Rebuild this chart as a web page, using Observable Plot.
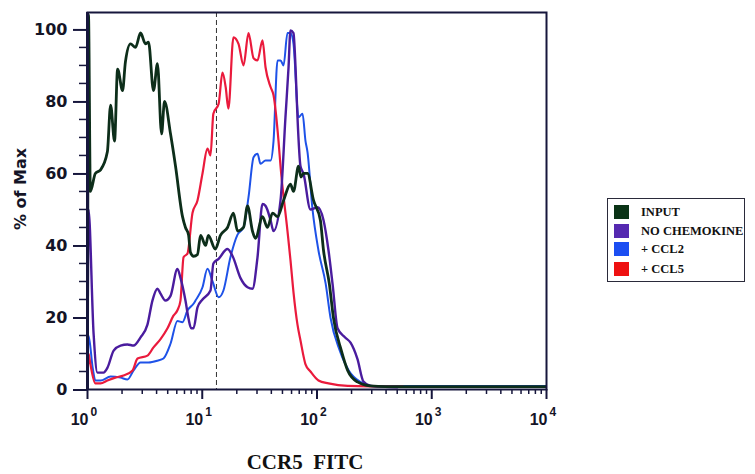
<!DOCTYPE html>
<html><head><meta charset="utf-8">
<script src="https://cdn.jsdelivr.net/npm/d3@7"></script>
<script src="https://cdn.jsdelivr.net/npm/@observablehq/plot@0.6"></script>
<style>
body{margin:0;background:#fff;}
#wrap{position:relative;width:755px;height:474px;overflow:hidden;}
#legend{position:absolute;left:607px;top:198px;width:138px;height:84px;border:1.5px solid #2a2a3a;box-sizing:border-box;font-family:"Liberation Serif","Times New Roman",serif;font-weight:bold;font-size:12.5px;color:#111;}
.row{position:absolute;left:6px;height:14px;display:flex;align-items:center;white-space:nowrap;}
.sw{width:15px;height:14px;margin-right:12px;flex:none;}
</style></head><body><div id="wrap"></div>
<script>
// ---- data ----
const seriesNames = ["INPUT", "NO CHEMOKINE", "+ CCL2", "+ CCL5"];
const seriesColors = ["#0d2e1a", "#4a1c9e", "#1e52e8", "#ea1a3c"];
const swatchColors = ["#0a3316", "#5529b0", "#1b4ef2", "#ee1111"];

const inputX = [1.00,1.02,1.06,1.17,1.30,1.49,1.59,1.72,1.83,2.02,2.14,2.37,2.62,2.90,3.20,3.40,3.76,4.07,4.42,4.69,5.29,5.85,6.73,7.14,7.59,7.90,8.40,9.09,9.66,10.7,11.3,13.0,14.4,16.6,18.7,20.3,22.9,24.8,27.4,29.1,33.5,37.0,41.0,45.3,51.1,58.7,62.4,69.0,72.5,76.2,82.6,93.3,107,114,128,139,163,185,225,290,400,10000];
const inputY = [2,104,55,60,61,66,79,69,89,83,91,96,95,99,96,96.5,83,90.5,71,80,71,62,48,45,43,38,37,37.5,42.8,40,42.8,39,42.8,45,49,44,45,51,44,42,48,45,49,48,52.5,57,55,62,59,60,60,52.5,47,38.6,29.4,20,10.8,5.3,2.1,1,0.8,0.8];

const noChemX = [1.00,1.02,1.13,1.22,1.38,1.49,1.69,1.94,2.23,2.52,2.90,3.33,3.68,4.07,4.33,4.78,5.29,6.08,6.46,7.14,7.59,8.00,8.39,9.09,10.05,11.8,12.5,13.9,16.6,18.4,21.5,24.8,27.4,30.3,33.5,35.6,39.4,41.8,48.1,53.1,56.5,58.7,62.4,65.0,67.6,71.8,76.2,87.7,101,114,126,137,151,175,196,225,254,293,500];
const noChemY = [2,50,15.5,4.7,4.7,6,10.8,12.2,12.5,12.2,14.5,18,24.7,28,26.6,24.7,26,33.5,31,24.7,19.7,17,17,22.8,25,27.5,35,36.3,39,37,31,28.4,28,36.7,51.5,51,47,44,52.5,75.6,89.5,99.7,99,89.5,75.6,62,60,50,50.6,47,38.6,29,17,14.5,13,8.5,2.2,1,0.6];

const ccl2X = [1.00,1.02,1.11,1.17,1.30,1.59,1.94,2.23,2.52,2.90,3.40,4.07,4.59,5.29,6.08,6.73,7.44,8.39,8.73,10.05,11.1,12.3,13.9,15.3,17.6,20.3,22.9,25.3,28.0,30.3,32.2,35.6,39.4,41.8,45.3,48.1,51.1,55.3,58.7,62.4,69.0,74.8,79.4,82.6,91.4,103,119,131,158,189,239,300,10000];
const ccl2Y = [2,15,6,2.5,2.5,3.6,3.3,2.8,5.3,7.5,7.5,8,8.6,12.7,19,18.7,22,23.8,24.7,28.4,33.5,30,25.6,27.5,36.7,43,45,53.4,64.5,65.5,62.7,63.6,63.6,69,91.4,91.4,90,99,99,96,75.6,76.6,69,66,50,38.6,29.4,20,10.8,5.3,2.1,1,1];

const ccl5X = [1.00,1.02,1.06,1.17,1.30,1.49,1.75,2.06,2.47,2.73,3.33,3.76,4.33,4.98,5.61,6.08,6.46,6.87,7.44,8.22,9.09,10.05,11.1,11.8,12.5,13.9,15.0,16.0,16.9,18.7,20.7,22.9,25.3,28.0,30.3,33.5,35.6,39.4,41.8,46.2,48.1,55.3,58.7,62.4,67.6,71.8,79.4,87.7,103,126,185,560];
const ccl5Y = [2,10,7,1.7,1.7,2.5,3.3,3.9,5.3,8.6,9.4,11.7,14,17,20.5,22,24.7,36.7,37.8,49,52.5,60,66.9,65,76.6,79.4,88,84,78,97.8,96,90,99,92,91.4,97,89.5,84,81.7,69,62,44,36,27,18,13.6,7,5,2.5,1.7,1,0.8];

const gateX = 13.3;               // dashed marker
const xMajorTicks = [1, 10, 100, 1000, 10000];
const xTickExponents = ["0", "1", "2", "3", "4"];
const yTicks = [0, 20, 40, 60, 80, 100];
const yLabel = "% of Max";
const xLabel = "CCR5\u00a0 FITC";

// ---- build ----
const seriesX = [inputX, noChemX, ccl2X, ccl5X];
const seriesY = [inputY, noChemY, ccl2Y, ccl5Y];
const widths = [2.8, 2.4, 2.0, 2.2];
const tables = seriesX.map((xs, s) => xs.map((x, i) => ({x, y: seriesY[s][i], name: seriesNames[s]})));
const xMinor = xMajorTicks.slice(0, -1).flatMap(d => [2,3,4,5,6,7,8,9].map(k => k * d));
const yMinor = d3.range(5, 105, 5).filter(v => v % 20 !== 0);
const axisColor = "#16163c";
const textColor = "#141426";
const wideSans = "'DejaVu Sans', Verdana, sans-serif";
const drawOrder = [2, 3, 1, 0];

const chart = Plot.plot({
  width: 755, height: 474,
  marginLeft: 87, marginRight: 209, marginTop: 12, marginBottom: 85,
  style: {fontFamily: "'Liberation Sans', Arial, sans-serif", background: "transparent", color: textColor},
  x: {type: "log", domain: [1, 10000]},
  y: {domain: [0, 104.7]},
  marks: [
    Plot.ruleX([gateX], {stroke: "#333", strokeDasharray: "5,3", strokeWidth: 1}),
    ...drawOrder.map(s => Plot.line(tables[s], {x: "x", y: "y", stroke: seriesColors[s], strokeWidth: widths[s], curve: "monotone-x", clip: true})),
    Plot.frame({stroke: axisColor, strokeWidth: 2}),
    Plot.ruleX([1], {stroke: axisColor, strokeWidth: 3}),
    Plot.axisY({ticks: yTicks, tickSize: 14, tickPadding: 6, fontSize: 16, fontWeight: "bold", fontFamily: wideSans, stroke: axisColor, strokeWidth: 2, fill: textColor, label: null, dy: 0.5}),
    Plot.axisY({ticks: yMinor, tickSize: 8, stroke: axisColor, strokeWidth: 1.5, tickFormat: () => "", label: null}),
    Plot.axisX({ticks: xMajorTicks, tickSize: 10, stroke: axisColor, strokeWidth: 2, tickFormat: () => "", label: null}),
    Plot.axisX({ticks: xMinor, tickSize: 5, stroke: axisColor, strokeWidth: 1.5, tickFormat: () => "", label: null}),
    Plot.text(xMajorTicks, {x: d => d, text: () => "10", frameAnchor: "bottom", dy: 35, dx: 1, textAnchor: "end", lineAnchor: "bottom", fontSize: 16, fontWeight: "bold", fill: textColor}),
    Plot.text(xMajorTicks, {x: d => d, text: (d, i) => xTickExponents[i], frameAnchor: "bottom", dy: 26, dx: 3, textAnchor: "start", lineAnchor: "bottom", fontSize: 12, fontWeight: "bold", fill: textColor}),
    Plot.text([yLabel], {frameAnchor: "left", dx: -67, dy: 29, rotate: -90, fontSize: 16, fontWeight: "bold", fontFamily: wideSans, fill: textColor}),
    Plot.text([xLabel], {frameAnchor: "bottom", dx: -12, dy: 79, lineAnchor: "bottom", fontSize: 21, fontWeight: "bold", fontFamily: "'Liberation Serif', 'Times New Roman', serif", fill: "#111"})
  ]
});
const wrap = document.getElementById("wrap");
wrap.appendChild(chart);

// legend (HTML, beside the plot)
const lg = document.createElement("div");
lg.id = "legend";
const rowTops = [6, 25, 43, 63];
seriesNames.forEach((n, i) => {
  const r = document.createElement("div");
  r.className = "row";
  r.style.top = rowTops[i] + "px";
  const sw = document.createElement("div");
  sw.className = "sw";
  sw.style.background = swatchColors[i];
  const t = document.createElement("span");
  t.textContent = n;
  r.appendChild(sw); r.appendChild(t);
  lg.appendChild(r);
});
wrap.appendChild(lg);
</script>
</body></html>
